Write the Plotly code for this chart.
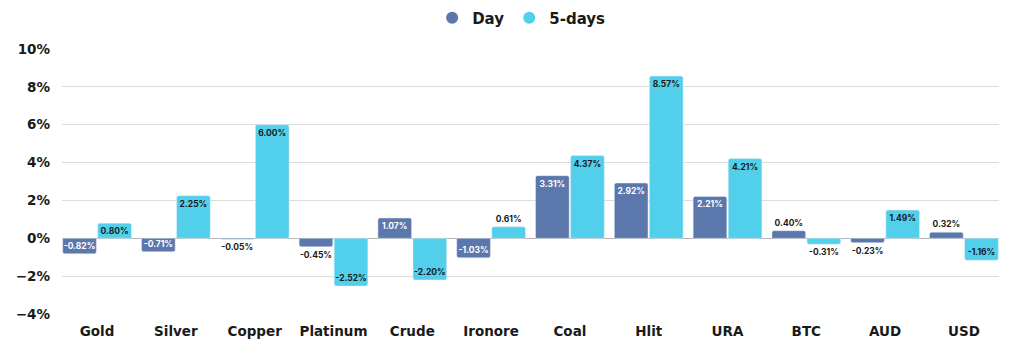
import plotly.graph_objects as go

categories = ["Gold", "Silver", "Copper", "Platinum", "Crude", "Ironore", "Coal", "Hlit", "URA", "BTC", "AUD", "USD"]
day_values = [-0.82, -0.71, -0.05, -0.45, 1.07, -1.03, 3.31, 2.92, 2.21, 0.40, -0.23, 0.32]
five_day_values = [0.80, 2.25, 6.00, -2.52, -2.20, 0.61, 4.37, 8.57, 4.21, -0.31, 1.49, -1.16]
tick_values = [-4, -2, 0, 2, 4, 6, 8, 10]
tick_labels = ["−4%", "−2%", "0%", "2%", "4%", "6%", "8%", "10%"]

DAY_COLOR = "#5b77ab"
FIVE_COLOR = "#52cfea"
FONT = "DejaVu Sans"
LABEL_FONT = "Inter"
TEXT_DARK = "#1a1a1a"

def positions(vals, thresh):
    return ["inside" if abs(v) >= thresh else "outside" for v in vals]

day_pos = positions(day_values, 0.7)
five_pos = positions(five_day_values, 0.7)

fig = go.Figure()
fig.add_trace(go.Bar(
    x=categories, y=day_values, name="Day", marker_color=DAY_COLOR,
    texttemplate="%{y:.2f}%", textposition=day_pos, insidetextanchor="end",
    textangle=0, constraintext="none",
    insidetextfont=dict(family=LABEL_FONT, size=8.5, color="white", weight=700),
    outsidetextfont=dict(family=LABEL_FONT, size=8.5, color=TEXT_DARK, weight=700),
    showlegend=False, cliponaxis=False,
))
fig.add_trace(go.Bar(
    x=categories, y=five_day_values, name="5-days", marker_color=FIVE_COLOR,
    texttemplate="%{y:.2f}%", textposition=five_pos, insidetextanchor="end",
    textangle=0, constraintext="none",
    insidetextfont=dict(family=LABEL_FONT, size=8.5, color=TEXT_DARK, weight=700),
    outsidetextfont=dict(family=LABEL_FONT, size=8.5, color=TEXT_DARK, weight=700),
    showlegend=False, cliponaxis=False,
))
for name, color in [("Day", DAY_COLOR), ("5-days", FIVE_COLOR)]:
    fig.add_trace(go.Scatter(
        x=[None], y=[None], mode="markers", name=name,
        marker=dict(symbol="circle", size=17, color=color),
    ))

# page body has an 8px margin: margins below are compensated for it
fig.update_layout(
    width=1024, height=356,
    margin=dict(l=54, r=33, t=41, b=50, autoexpand=False),
    paper_bgcolor="white", plot_bgcolor="white",
    barmode="group", bargap=0.11, bargroupgap=0.04,
    barcornerradius=2,
    font=dict(family=FONT, color=TEXT_DARK),
    legend=dict(
        orientation="h", x=0.49, xanchor="center", y=1.117, yanchor="middle",
        font=dict(family=FONT, size=15, color=TEXT_DARK, weight=700),
        itemsizing="constant", itemwidth=30, tracegroupgap=0,
    ),
    xaxis=dict(
        range=[-0.445, 11.445], showgrid=False, showline=False, ticks="",
        tickfont=dict(family=FONT, size=13.5, color=TEXT_DARK, weight=700),
        ticklabelstandoff=7, fixedrange=True,
    ),
    yaxis=dict(
        range=[-4, 10], tickvals=tick_values, ticktext=tick_labels,
        showgrid=True, gridcolor="#dcdcdc", gridwidth=1,
        zeroline=True, zerolinecolor="#b5b5b5", zerolinewidth=1,
        tickfont=dict(family=FONT, size=13.5, color=TEXT_DARK, weight=700),
        ticks="", ticklen=0, ticklabelstandoff=11, fixedrange=True,
    ),
)

fig.write_html("out.html")
